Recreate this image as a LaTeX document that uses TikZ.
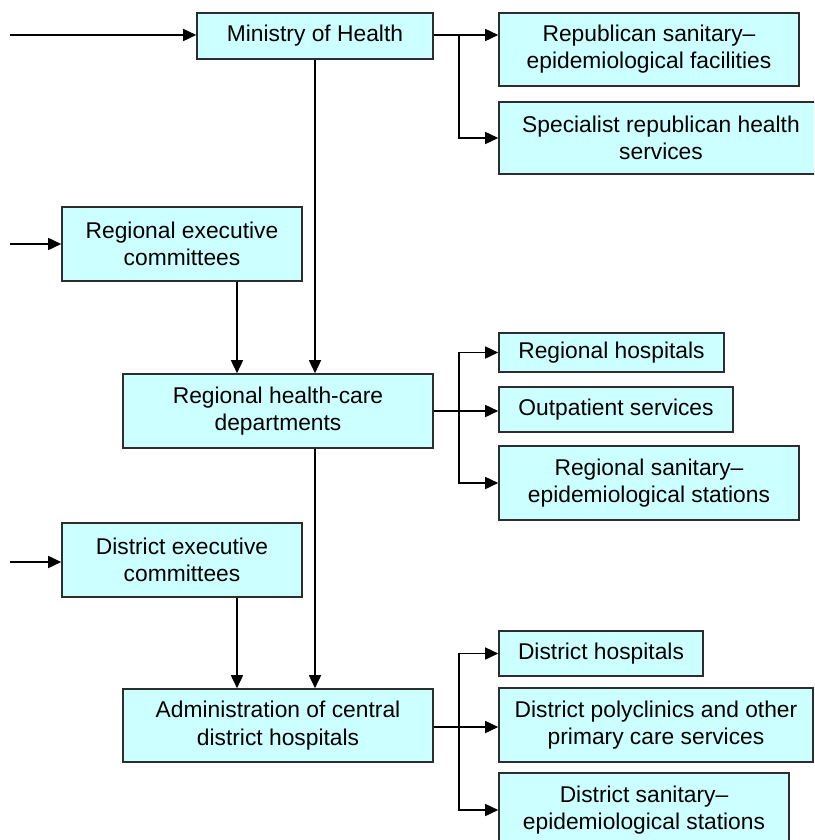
\documentclass[tikz,border=0pt]{standalone}
\usepackage{fontspec}
\setmainfont{Liberation Sans}
\usepackage{xcolor}
\usetikzlibrary{calc,positioning,arrows.meta}
\definecolor{boxfill}{RGB}{204,255,255}
\definecolor{boxline}{RGB}{45,45,45}

\begin{document}
\begin{tikzpicture}[x=0.5pt, y=-0.5pt,
  unit/.style={draw=boxline, fill=boxfill, line width=0.8pt,
    inner sep=0pt, align=center,
    font=\fontsize{11.4}{13.6}\selectfont},
  arr/.style={line width=0.8pt, -{Triangle[length=6.5pt, width=6pt]}},
  link/.style={line width=0.8pt},
]
  \clip (0,0) rectangle (814,840);
  \useasboundingbox (0,0) rectangle (814,840);

  % Ministry level
  \node[unit, minimum width=118pt, minimum height=23pt] (min) at (315,36)
    {Ministry of Health};
  \node[unit, minimum width=150pt, minimum height=36.5pt] (rep) at (649,49.5)
    {Republican sanitary–\\epidemiological facilities};
  \node[unit, minimum width=162pt, minimum height=36pt] (spec) at (661,138)
    {Specialist republican health\\services};

  % Regional level
  \node[unit, minimum width=120pt, minimum height=37pt] (regexec) at (182,244)
    {Regional executive\\committees};
  \node[unit, minimum width=155pt, minimum height=37pt] (reghc) at (278,411)
    {Regional health-care\\departments};
  \node[unit, minimum width=112.5pt, minimum height=19.5pt] (reghosp) at (611.5,352.5)
    {Regional hospitals};
  \node[unit, minimum width=117pt, minimum height=22.5pt] (outp) at (616,409.5)
    {Outpatient services};
  \node[unit, minimum width=150pt, minimum height=37pt] (regsan) at (649,483)
    {Regional sanitary–\\epidemiological stations};

  % District level
  \node[unit, minimum width=120pt, minimum height=37pt] (distexec) at (182,560)
    {District executive\\committees};
  \node[unit, minimum width=155pt, minimum height=36.5pt] (admin) at (278,725.5)
    {Administration of central\\district hospitals};
  \node[unit, minimum width=102pt, minimum height=22.5pt] (disthosp) at (601,653.5)
    {District hospitals};
  \node[unit, minimum width=157pt, minimum height=37pt] (distpoly) at (656,725)
    {District polyclinics and other\\primary care services};
  \node[unit, minimum width=145pt, minimum height=37pt] (distsan) at (644,810)
    {District sanitary–\\epidemiological stations};

  % Free ends of the incoming arrows
  \coordinate (inmin) at (10,35);
  \coordinate (inreg) at (10,244);
  \coordinate (indist) at (10,562);

  % Branch points
  \coordinate (brmin) at (459,35);
  \coordinate (brreg) at (459,411);
  \coordinate (brdist) at (459,727);

  % Drop points below the executive committees
  \coordinate (regdrop) at ($(regexec.south)+(55,0)$);
  \coordinate (distdrop) at ($(distexec.south)+(55,0)$);

  % Incoming arrows
  \draw[arr] (inmin) -- (inmin -| min.west);
  \draw[arr] (inreg) -- (regexec.west);
  \draw[arr] (indist) -- (indist -| distexec.west);

  % Ministry outputs
  \draw[link] (min.east |- brmin) -- (brmin);
  \draw[arr] (brmin) -- (brmin -| rep.west);
  \draw[arr] (brmin) |- (spec.west);

  % Vertical links
  \draw[arr] (min.south) -- (min.south |- reghc.north);
  \draw[arr] (regdrop) -- (regdrop |- reghc.north);
  \draw[arr] (min.south |- reghc.south) -- (min.south |- admin.north);
  \draw[arr] (distdrop) -- (distdrop |- admin.north);

  % Regional outputs
  \draw[link] (reghc.east |- brreg) -- (brreg);
  \draw[arr] (brreg) |- (reghosp.west);
  \draw[arr] (brreg) -- (brreg -| outp.west);
  \draw[arr] (brreg) |- (regsan.west);

  % District outputs
  \draw[link] (admin.east |- brdist) -- (brdist);
  \draw[arr] (brdist) |- (disthosp.west);
  \draw[arr] (brdist) -- (brdist -| distpoly.west);
  \draw[arr] (brdist) |- (distsan.west);
\end{tikzpicture}
\end{document}
